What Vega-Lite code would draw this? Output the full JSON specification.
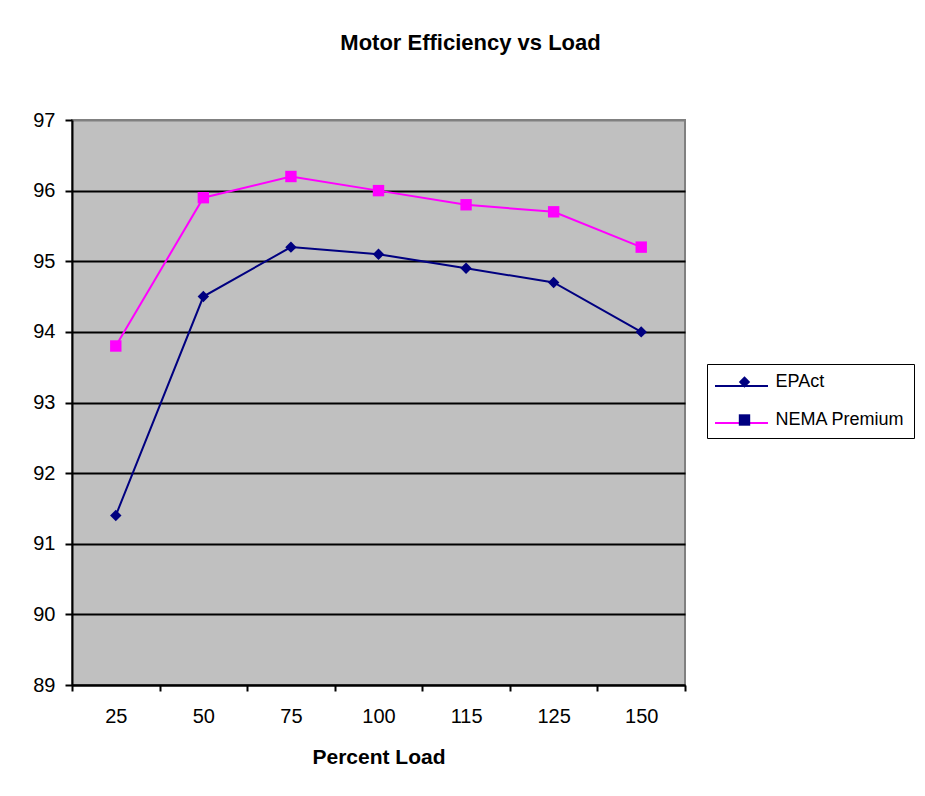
{
  "$schema": "https://vega.github.io/schema/vega-lite/v6.json",
  "autosize": "none",
  "width": 613,
  "height": 565,
  "padding": {"left": 72, "top": 120, "right": 240, "bottom": 111},
  "background": "white",
  "title": {
    "text": "Motor Efficiency vs Load",
    "font": "Liberation Sans",
    "fontSize": 22,
    "fontWeight": "bold",
    "color": "black",
    "anchor": "middle",
    "dx": 92,
    "offset": 55
  },
  "data": {
    "values": [
      {"load": "25", "series": "EPAct", "efficiency": 91.4},
      {"load": "50", "series": "EPAct", "efficiency": 94.5},
      {"load": "75", "series": "EPAct", "efficiency": 95.2},
      {"load": "100", "series": "EPAct", "efficiency": 95.1},
      {"load": "115", "series": "EPAct", "efficiency": 94.9},
      {"load": "125", "series": "EPAct", "efficiency": 94.7},
      {"load": "150", "series": "EPAct", "efficiency": 94.0},
      {"load": "25", "series": "NEMA Premium", "efficiency": 93.8},
      {"load": "50", "series": "NEMA Premium", "efficiency": 95.9},
      {"load": "75", "series": "NEMA Premium", "efficiency": 96.2},
      {"load": "100", "series": "NEMA Premium", "efficiency": 96.0},
      {"load": "115", "series": "NEMA Premium", "efficiency": 95.8},
      {"load": "125", "series": "NEMA Premium", "efficiency": 95.7},
      {"load": "150", "series": "NEMA Premium", "efficiency": 95.2}
    ]
  },
  "encoding": {
    "x": {
      "field": "load",
      "type": "ordinal",
      "sort": ["25", "50", "75", "100", "115", "125", "150"],
      "scale": {"type": "band", "paddingInner": 0, "paddingOuter": 0},
      "axis": {
        "title": "Percent Load",
        "labelAngle": 0,
        "tickBand": "extent",
        "grid": false,
        "labelFontSize": 20,
        "labelPadding": 15,
        "tickSize": 6,
        "titlePadding": 20
      }
    },
    "y": {
      "field": "efficiency",
      "type": "quantitative",
      "scale": {"domain": [89, 97], "nice": false, "zero": false},
      "axis": {
        "title": null,
        "values": [89, 90, 91, 92, 93, 94, 95, 96, 97],
        "grid": true,
        "gridColor": {"condition": {"test": "datum.value >= 97", "value": "#808080"}, "value": "black"},
        "gridWidth": 2,
        "labelFontSize": 20,
        "labelPadding": 10,
        "tickSize": 7
      }
    }
  },
  "layer": [
    {
      "mark": {"type": "line", "strokeWidth": 2},
      "encoding": {
        "color": {
          "field": "series",
          "type": "nominal",
          "scale": {"range": ["#000080", "#FF00FF"]},
          "legend": {
            "title": null,
            "orient": "none",
            "legendX": 635,
            "legendY": 229.5,
            "padding": 9,
            "labelFont": "Liberation Sans",
            "labelFontSize": 18,
            "labelExpr": "''",
            "symbolType": "stroke",
            "symbolSize": 2809,
            "symbolStrokeWidth": 2,
            "symbolOffset": -2,
            "labelOffset": 5,
            "rowPadding": -15
          }
        }
      }
    },
    {
      "mark": {"type": "point", "filled": true, "opacity": 1, "size": 130},
      "encoding": {
        "color": {
          "field": "series",
          "type": "nominal",
          "scale": {"range": ["#000080", "#FF00FF"]},
          "legend": null
        },
        "shape": {
          "field": "series",
          "type": "nominal",
          "scale": {"domain": ["EPAct", "NEMA Premium"], "range": ["diamond", "square"]},
          "legend": {
            "title": null,
            "orient": "none",
            "legendX": 635,
            "legendY": 244,
            "padding": 9,
            "strokeColor": "black",
            "labelFont": "Liberation Sans",
            "labelFontSize": 18,
            "labelColor": "black",
            "symbolSize": 130,
            "symbolFillColor": "#000080",
            "symbolStrokeWidth": 0,
            "symbolOffset": 19.5,
            "labelOffset": 22,
            "rowPadding": 20,
            "encode": {
              "symbols": {
                "update": {
                  "fill": {"signal": "datum.value === 'EPAct' ? '#000080' : '#FF00FF'"},
                  "fillOpacity": {"value": 1},
                  "opacity": {"value": 1},
                  "strokeWidth": {"value": 0}
                }
              }
            }
          }
        }
      }
    }
  ],
  "config": {
    "font": "Liberation Sans",
    "view": {"fill": "#C0C0C0", "stroke": "#808080", "strokeWidth": 2},
    "axis": {
      "labelFont": "Liberation Sans",
      "labelColor": "black",
      "titleFont": "Liberation Sans",
      "titleFontSize": 21,
      "titleFontWeight": "bold",
      "titleColor": "black",
      "domainColor": "black",
      "domainWidth": 2,
      "tickColor": "black",
      "tickWidth": 2
    }
  }
}
